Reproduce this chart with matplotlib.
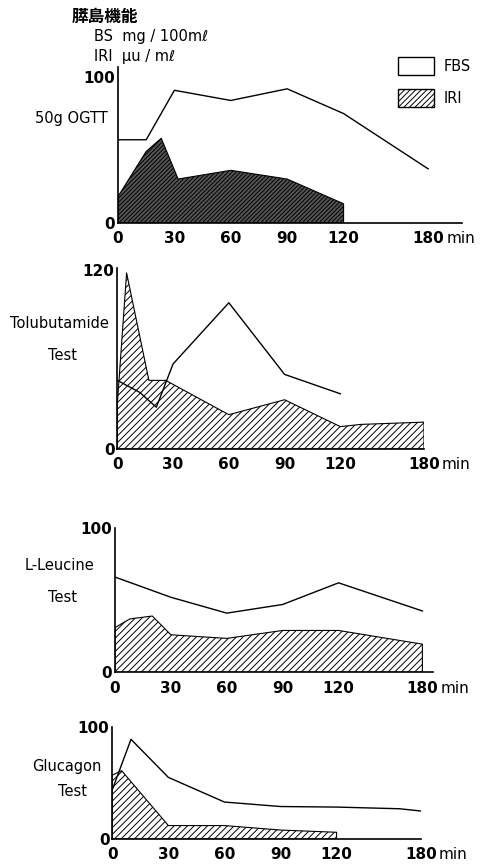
import numpy as np
import matplotlib
matplotlib.use("Agg")
import matplotlib.pyplot as plt
from matplotlib.patches import Patch
from matplotlib import transforms

plt.rcParams['font.family'] = ['DejaVu Sans', 'Noto Sans CJK JP']
plt.rcParams['hatch.linewidth'] = 0.7

### data (minutes, values)
ticks = [0, 30, 60, 90, 120, 180]

ogtt_t_fbs = [0, 15, 30, 60, 90, 120, 180]
ogtt_fbs = [57, 57, 91, 84, 92, 75, 37]
ogtt_t_iri = [0, 15, 23, 32, 60, 90, 120, 120]
ogtt_iri = [18, 49, 58, 30, 36, 30, 13, 0]

tolb_t_fbs = [0, 12, 21, 30, 60, 90, 120]
tolb_fbs = [46, 38, 28, 57, 98, 50, 37]
tolb_t_iri = [0, 5, 17, 26, 60, 90, 120, 135, 180]
tolb_iri = [30, 118, 46, 46, 23, 33, 15, 16.5, 18]

leu_t_fbs = [0, 30, 60, 90, 120, 180]
leu_fbs = [66, 52, 41, 47, 62, 42.5]
leu_t_iri = [0, 8, 20, 30, 60, 90, 120, 180]
leu_iri = [31, 37, 39, 26, 23.5, 29, 29, 19.5]

glu_t_fbs = [0, 10, 30, 60, 90, 120, 165, 180]
glu_fbs = [44, 89, 55, 33, 29, 28.5, 27, 25]
glu_t_iri = [0, 5, 30, 60, 90, 120, 120]
glu_iri = [57, 61, 12, 12, 8, 6, 0]

# time axis is compressed after 120 min
def fwd(t):
    return np.interp(t, [-60, 0, 120, 300], [-2, 0, 4, 8.5])

def inv(p):
    return np.interp(p, [-2, 0, 4, 8.5], [-60, 0, 120, 300])

W, H = 481, 864
fig = plt.figure(figsize=(W / 100, H / 100), dpi=100)

def box(l, t, r, b):
    return [l / W, 1 - b / H, (r - l) / W, (b - t) / H]

def panel(rect, xmax, ymax, yticks, t_fbs, fbs, t_iri, iri, dark=False):
    ax = fig.add_axes(rect)
    ax.set_xscale('function', functions=(fwd, inv))
    if dark:
        ax.fill_between(t_iri, iri, 0, facecolor='#555555', edgecolor='black',
                        hatch='////////', linewidth=0.8)
    else:
        ax.fill_between(t_iri, iri, 0, facecolor='white', edgecolor='black',
                        hatch='/////', linewidth=0.8)
    ax.plot(t_fbs, fbs, color='black', lw=1.0)
    ax.set_xlim(0, xmax)
    ax.set_ylim(0, ymax)
    ax.set_xticks(ticks)
    ax.set_yticks(yticks)
    for s in ['top', 'right']:
        ax.spines[s].set_visible(False)
    for s in ['left', 'bottom']:
        ax.spines[s].set_linewidth(1.2)
    ax.tick_params(length=0, labelsize=11)
    ax.tick_params(axis='x', pad=6)
    ax.tick_params(axis='y', pad=2)
    for lab in ax.get_xticklabels() + ax.get_yticklabels():
        lab.set_fontweight('bold')
    off = transforms.offset_copy(ax.transData, fig=fig, x=13, y=-6, units='points')
    ax.text(180, 0, 'min', transform=off, fontsize=11, va='top', ha='left')
    return ax

ax1 = panel(box(118, 67, 462, 222.7), 204, 107, [0, 100],
            ogtt_t_fbs, ogtt_fbs, ogtt_t_iri, ogtt_iri, dark=True)
ax2 = panel(box(117.3, 268, 424, 449), 180, 121.3, [0, 120],
            tolb_t_fbs, tolb_fbs, tolb_t_iri, tolb_iri)
ax3 = panel(box(115, 528, 433, 672.3), 187.6, 100, [0, 100],
            leu_t_fbs, leu_fbs, leu_t_iri, leu_iri)
ax4 = panel(box(112.3, 727, 420.7, 839), 180, 100, [0, 100],
            glu_t_fbs, glu_fbs, glu_t_iri, glu_iri)

def ftext(x, y, s, **kw):
    fig.text(x / W, 1 - y / H, s, va='center', **kw)

ftext(72, 17, '膵島機能', fontsize=12, fontweight='bold',
      family=['Noto Sans CJK JP', 'DejaVu Sans'])
ftext(94, 36, 'BS  mg / 100mℓ', fontsize=10.5)
ftext(94, 57, 'IRI  μu / mℓ', fontsize=10.5)

ftext(35, 118, '50g OGTT', fontsize=10.5)
ftext(10, 324, 'Tolubutamide', fontsize=10.5)
ftext(63, 355, 'Test', fontsize=10.5, ha='center')
ftext(25, 565, 'L-Leucine', fontsize=10.5)
ftext(63, 598, 'Test', fontsize=10.5, ha='center')
ftext(32, 767, 'Glucagon', fontsize=10.5)
ftext(72, 792, 'Test', fontsize=10.5, ha='center')

handles = [Patch(facecolor='white', edgecolor='black', linewidth=1.0, label='FBS'),
           Patch(facecolor='white', edgecolor='black', hatch='//////', linewidth=1.0, label='IRI')]
fig.legend(handles=handles, loc='upper left', bbox_to_anchor=(398 / W, 1 - 57 / H),
           frameon=False, borderpad=0, borderaxespad=0, handlelength=2.5,
           handleheight=1.5, handletextpad=0.6, labelspacing=1.0, fontsize=10.5)

fig.savefig('out.png', dpi=100)
